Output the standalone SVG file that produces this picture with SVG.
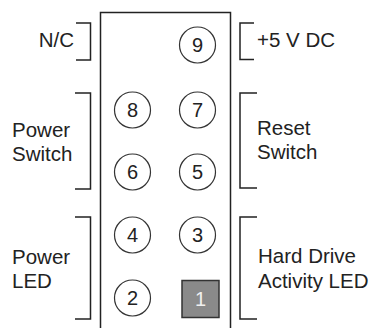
<svg xmlns="http://www.w3.org/2000/svg" width="374" height="328" viewBox="0 0 374 328">
<style>
.ln{fill:none;stroke:#222;stroke-width:1.5}
.pin{fill:#fff;stroke:#333;stroke-width:1.2}
.t{font-family:"Liberation Sans",Arial,sans-serif;font-size:20.5px;fill:#222}
.n{font-family:"Liberation Sans",Arial,sans-serif;font-size:20px;fill:#222;text-anchor:middle}
</style>
<rect width="374" height="328" fill="#fff"/>
<g id="header">
<path class="ln" d="M100.5,330 V12.5 H230.5 V330"/>
</g>
<g id="pin9"><circle class="pin" cx="197.5" cy="45" r="18"/><text class="n" x="197.5" y="52">9</text></g>
<g id="pin8"><circle class="pin" cx="132.5" cy="110" r="18"/><text class="n" x="132.5" y="117">8</text></g>
<g id="pin7"><circle class="pin" cx="197.5" cy="110" r="18"/><text class="n" x="197.5" y="117">7</text></g>
<g id="pin6"><circle class="pin" cx="132.5" cy="172" r="18"/><text class="n" x="132.5" y="179">6</text></g>
<g id="pin5"><circle class="pin" cx="197.5" cy="172" r="18"/><text class="n" x="197.5" y="179">5</text></g>
<g id="pin4"><circle class="pin" cx="132.5" cy="235" r="18"/><text class="n" x="132.5" y="242">4</text></g>
<g id="pin3"><circle class="pin" cx="197.5" cy="235" r="18"/><text class="n" x="197.5" y="242">3</text></g>
<g id="pin2"><circle class="pin" cx="132.5" cy="298" r="18"/><text class="n" x="132.5" y="305">2</text></g>
<g id="pin1"><rect x="182" y="280.5" width="37" height="37" fill="#8a8a8a" stroke="#333" stroke-width="1.5"/><text class="n" x="200.5" y="306" style="fill:#f0f0f0">1</text></g>
<g id="connectors">
<path class="ln" d="M76,23 H90.5 V60 H76"/>
<path class="ln" d="M75,93 H90.5 V189 H75"/>
<path class="ln" d="M75,217 H90.5 V319 H75"/>
<path class="ln" d="M254,23 H240 V59.5 H254"/>
<path class="ln" d="M257,93 H240 V188 H257"/>
<path class="ln" d="M257,217 H240 V319 H257"/>
</g>
<g id="lbl-nc"><text class="t" x="74" y="47" text-anchor="end">N/C</text></g>
<g id="lbl-5v"><text class="t" x="257" y="47">+5 V DC</text></g>
<g id="lbl-pwrsw"><text class="t" x="12" y="137">Power</text><text class="t" x="12" y="161">Switch</text></g>
<g id="lbl-reset"><text class="t" x="257" y="135">Reset</text><text class="t" x="257" y="159">Switch</text></g>
<g id="lbl-pwrled"><text class="t" x="12" y="264">Power</text><text class="t" x="12" y="288">LED</text></g>
<g id="lbl-hdd"><text class="t" x="258" y="263">Hard Drive</text><text class="t" x="258" y="288">Activity LED</text></g>
</svg>
